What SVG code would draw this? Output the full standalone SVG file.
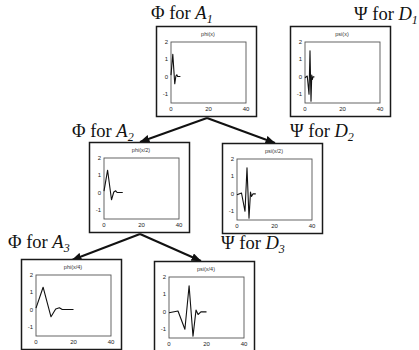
<svg xmlns="http://www.w3.org/2000/svg" width="419" height="350" viewBox="0 0 419 350">
<defs>
<style>
.frame{fill:#fff;stroke:#1a1a1a;stroke-width:1.5}
.axes{fill:none;stroke:#555;stroke-width:0.9}
.curve{fill:none;stroke:#111;stroke-width:1.1;stroke-linejoin:round}
.tick{font-family:"Liberation Sans",Arial,sans-serif;font-size:6px;fill:#222}
.ttl{font-family:"Liberation Sans",Arial,sans-serif;font-size:5.5px;fill:#333;text-anchor:middle}
.lbl{font-family:"Liberation Serif","Times New Roman",serif;font-size:18.5px;fill:#111}
.it{font-style:italic}
.conn{stroke:#111;stroke-width:2;fill:none}
</style>
<marker id="ah" viewBox="0 0 10 8" refX="9.5" refY="4" markerWidth="10" markerHeight="8" markerUnits="userSpaceOnUse" orient="auto">
<path d="M0,0 L10,4 L0,8 Z" fill="#111"/>
</marker>
<g id="axesTpl">
<rect class="frame" x="0.5" y="0.5" width="100" height="90"/>
<rect class="axes" x="15" y="16" width="75" height="61"/>
<text class="tick" x="12" y="18" text-anchor="end">2</text>
<text class="tick" x="12" y="35.4" text-anchor="end">1</text>
<text class="tick" x="12" y="52.9" text-anchor="end">0</text>
<text class="tick" x="12" y="70.3" text-anchor="end">-1</text>
<text class="tick" x="15" y="85" text-anchor="middle">0</text>
<text class="tick" x="52.5" y="85" text-anchor="middle">20</text>
<text class="tick" x="90" y="85" text-anchor="middle">40</text>
</g>
</defs>
<rect width="419" height="350" fill="#fff"/>

<g id="connectors">
<line class="conn" x1="207" y1="118" x2="140" y2="142" marker-end="url(#ah)"/>
<line class="conn" x1="207" y1="118" x2="275" y2="143" marker-end="url(#ah)"/>
<line class="conn" x1="140" y1="234" x2="72" y2="260" marker-end="url(#ah)"/>
<line class="conn" x1="140" y1="234" x2="201" y2="261" marker-end="url(#ah)"/>
</g>

<g id="phiA1">
<text class="lbl" x="151" y="19">Φ for <tspan class="it">A</tspan><tspan class="it" font-size="12" dy="4">1</tspan></text>
<g transform="translate(156,26)">
<use href="#axesTpl"/>
<text class="ttl" x="52" y="10">phi(x)</text>
<polyline class="curve" points="15,49.1 16.8,28.2 18.75,57.8 19.9,50 20.8,48.8 21.6,50.5 24.4,50.5"/>
</g>
</g>

<g id="psiD1">
<text class="lbl" x="354" y="20">Ψ for <tspan class="it">D</tspan><tspan class="it" font-size="12" dy="4">1</tspan></text>
<g transform="translate(290,26)">
<use href="#axesTpl"/>
<text class="ttl" x="52" y="10">psi(x)</text>
<polyline class="curve" points="15,51.7 17.25,50 19,68.3 20,24.7 21,75.3 21.75,49.1 22.3,53.5 23,50.9 24.4,50.9"/>
</g>
</g>

<g id="phiA2">
<text class="lbl" x="72" y="137">Φ for <tspan class="it">A</tspan><tspan class="it" font-size="12" dy="4">2</tspan></text>
<g transform="translate(89,142)">
<use href="#axesTpl"/>
<text class="ttl" x="52" y="10">phi(x/2)</text>
<polyline class="curve" points="15,49.1 18.6,28.2 22.5,57.8 24.8,50 26.7,48.8 28.1,50.5 33.75,50.5"/>
</g>
</g>

<g id="psiD2">
<text class="lbl" x="290" y="137">Ψ for <tspan class="it">D</tspan><tspan class="it" font-size="12" dy="4">2</tspan></text>
<g transform="translate(222,143)">
<use href="#axesTpl"/>
<text class="ttl" x="52" y="10">psi(x/2)</text>
<polyline class="curve" points="15,51.7 19.5,50 23,68.3 25,24.7 27,75.3 28.5,49.1 29.5,53.5 30.9,50.9 33.75,50.9"/>
</g>
</g>

<g id="phiA3">
<text class="lbl" x="8" y="248">Φ for <tspan class="it">A</tspan><tspan class="it" font-size="12" dy="4">3</tspan></text>
<g transform="translate(21,259)">
<use href="#axesTpl"/>
<text class="ttl" x="52" y="10">phi(x/4)</text>
<polyline class="curve" points="15,49.1 22.1,28.2 30,57.8 34.7,50 38.4,48.8 41.25,50.5 52.5,50.5"/>
</g>
</g>

<g id="psiD3">
<text class="lbl" x="221" y="249">Ψ for <tspan class="it">D</tspan><tspan class="it" font-size="12" dy="4">3</tspan></text>
<g transform="translate(154,261)">
<use href="#axesTpl"/>
<text class="ttl" x="52" y="10">psi(x/4)</text>
<polyline class="curve" points="15,51.7 24,50 30.9,68.3 35.1,24.7 39,75.3 42,49.1 44.1,53.5 46.9,50.9 52.5,50.9"/>
</g>
</g>
</svg>
